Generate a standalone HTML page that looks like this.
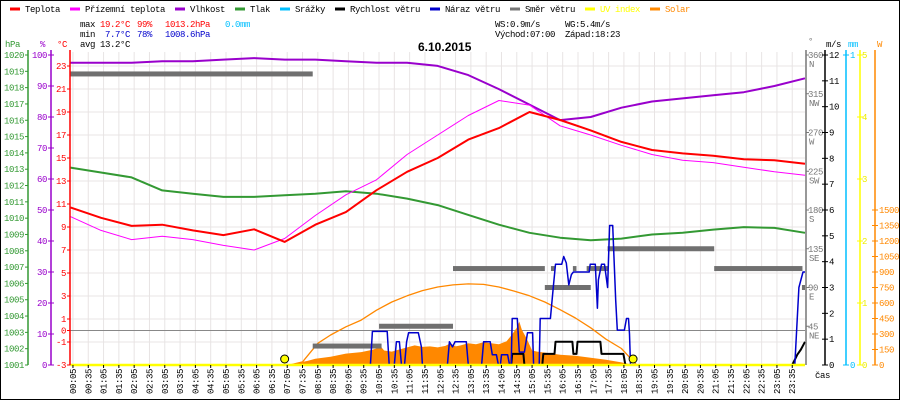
<!DOCTYPE html>
<html><head><meta charset="utf-8"><style>
html,body{margin:0;padding:0;background:#fff}
svg{display:block}
text{font-family:"Liberation Mono",monospace;font-size:9px;letter-spacing:-0.4px}
</style></head><body>
<svg id="c" width="900" height="400" viewBox="0 0 900 400" xmlns="http://www.w3.org/2000/svg">
<rect x="0.5" y="0.5" width="899" height="399" fill="#fff" stroke="#000"/>
<g id="legend"></g>
<g>
<text x="80" y="27">max</text><text x="100" y="27" fill="#f00">19.2°C</text><text x="137" y="27" fill="#f00">99%</text><text x="165" y="27" fill="#f00">1013.2hPa</text><text x="225" y="27" fill="#00bfff">0.0mm</text>
<text x="80" y="37">min</text><text x="105" y="37" fill="#00c">7.7°C</text><text x="137" y="37" fill="#00c">78%</text><text x="165" y="37" fill="#00c">1008.6hPa</text>
<text x="80" y="47">avg</text><text x="100" y="47">13.2°C</text>
<text x="495" y="27">WS:0.9m/s</text><text x="565" y="27">WG:5.4m/s</text>
<text x="495" y="37">Východ:07:00</text><text x="565" y="37">Západ:18:23</text>
</g>
<text x="418" y="51" style="font-family:'Liberation Sans',sans-serif;font-weight:bold;font-size:12px;letter-spacing:0">6.10.2015</text>
<g id="grid"></g><g id="plot"></g><g id="axes"></g>
</svg>
<script>
const tempH=[10.7,9.8,9.1,9.2,8.7,8.3,8.8,7.7,9.2,10.3,12.2,13.8,15.0,16.6,17.6,19.0,18.3,17.4,16.4,15.7,15.4,15.2,14.9,14.8,14.5];
const appH=[9.9,8.7,7.9,8.2,7.9,7.4,7.0,8.0,10.0,11.8,13.1,15.3,17.0,18.7,20.0,19.6,17.8,17.0,16.1,15.3,14.8,14.6,14.2,13.8,13.5];
const humH=[97.5,97.5,97.5,98,98,98.5,99,98.5,98.5,98,97.5,97.5,96.5,93.5,89,84,79,80,83,85,86,87,88,90,92.5];
const presH=[1013.1,1012.8,1012.5,1011.7,1011.5,1011.3,1011.3,1011.4,1011.5,1011.65,1011.5,1011.2,1010.8,1010.2,1009.6,1009.1,1008.8,1008.65,1008.75,1009.0,1009.1,1009.3,1009.45,1009.4,1009.1];
const solT=[420,435,450,465,480,510,540,570,590,600,605,615,630,645,660,675,690,705,720,735,745,755,765,780,795,810,825,840,855,865,875,880,885,895,905,915,930,945,960,990,1020,1050,1080,1095,1105];
const solV=[0,10,25,40,60,80,110,125,145,160,200,140,130,150,170,190,175,180,170,185,210,180,190,210,200,220,210,200,230,290,360,420,340,250,140,130,120,110,100,90,70,50,25,10,0];
const theoT=[430,455,485,510,540,570,600,630,660,690,720,750,780,810,840,870,900,930,960,990,1020,1050,1080,1095,1110];
const theoV=[0,30,210,290,370,435,530,610,670,720,755,775,785,780,755,715,670,610,535,455,360,250,160,80,0];
const wsT=[0,864,866,888,890,925,927,949,951,984,986,992,994,1039,1041,1084,1088,1415,1425,1432,1440];
const wsV=[0,0,0.43,0.43,0,0,0.43,0.43,0.9,0.9,0.43,0.43,0.9,0.9,0.43,0.43,0,0,0.4,0.6,0.9];
const wgT=[0,588,592,621,625,635,639,645,649,655,659,663,682,688,690,739,743,749,754,776,780,806,810,823,827,835,839,843,845,857,861,864,866,876,880,890,896,906,908,919,921,941,947,951,963,967,972,977,982,986,1017,1019,1029,1033,1035,1041,1047,1053,1057,1063,1069,1072,1086,1090,1094,1096,1098,1420,1428,1436,1440];
const wgV=[0,0,1.3,1.3,0,0,0.9,0.9,0,0,0.9,1.25,1.25,0.7,0,0,0.9,0.7,0.9,0.9,0,0,0.9,0.9,0.4,0.4,0,0,0.4,0.4,0,0,1.8,1.8,0.5,0.5,1.25,1.25,0,0,1.8,1.8,3.1,3.9,3.9,4.2,3.95,3.1,3.5,3.6,3.6,3.9,3.9,2.2,3.3,3.9,3.9,3.0,5.4,5.4,2.5,1.35,1.35,1.8,1.8,1.2,0,0,3.0,3.6,3.6];
const dirS=[0,475,605,750,942,930,985,1012,1053,1262,1434];
const dirE=[475,610,750,930,950,1020,992,1055,1262,1435,1440];
const dirV=[338,22,45,112,112,90,112,112,135,112,90];
const tempTicks=[23,21,19,17,15,13,11,9,7,5,3,1,0,-1,-3];
const legendNames=["Teplota","Přízemní teplota","Vlhkost","Tlak","Srážky","Rychlost větru","Náraz větru","Směr větru","UV index","Solar"];
const legendColors=["#f00","#f0f","#90c","#393","#00bfff","#000","#00c","#777","#ff0","#f80"];
const legendX=[10,70,175,235,280,335,430,510,585,650];
const dirLabels=["NE","E","SE","S","SW","W","NW","N"];

const NS="http://www.w3.org/2000/svg";
const X0=70.4,X1=805,Y0=55,Y1=365;
const xT=m=>X0+m*(X1-X0)/1440;
const yC=t=>330.5-t*11.5;
const yP=h=>Y1-h*(Y1-Y0)/100;
const yH=p=>Y0+(1020-p)*(Y1-Y0)/19;
const yW=v=>Y1-v*(Y1-Y0)/12;
const yS=w=>Y1-w*155/1500;
const yD=d=>Y1-d*(Y1-Y0)/360;
function mk(tag,at,parent){const e=document.createElementNS(NS,tag);for(const k in at)e.setAttribute(k,at[k]);parent.appendChild(e);return e;}
const grid=document.getElementById('grid'),plot=document.getElementById('plot'),axes=document.getElementById('axes'),leg=document.getElementById('legend');

legendNames.forEach((n,i)=>{
  const l=mk('line',{x1:legendX[i],x2:legendX[i]+10,y1:9,y2:9,stroke:legendColors[i],'stroke-width':3},leg);
  
  
  const t=mk('text',{x:legendX[i]+15,y:12,fill:(i==8||i==9)?legendColors[i]:'#000'},leg);
  t.textContent=n;
  
  
});

for(let i=0;i<48;i++){const x=xT(5+30*i);mk('line',{x1:x,x2:x,y1:Y0-3,y2:Y1,stroke:'#e8e4e4'},grid);}
tempTicks.forEach(t=>{if(t!==0)mk('line',{x1:X0,x2:X1,y1:yC(t),y2:yC(t),stroke:'#e8e4e4'},grid);});
mk('line',{x1:X0,x2:X1,y1:yC(0),y2:yC(0),stroke:'#888'},grid);

function path(ts,vs,fy,col,w,name){
  const d=ts.map((t,i)=>(i?'L':'M')+xT(t).toFixed(1)+','+fy(vs[i]).toFixed(1)).join('');
  const p=mk('path',{d:d,fill:'none',stroke:col,'stroke-width':w,'stroke-linejoin':'round'},plot);
  
  
  return p;
}
const hrs=tempH.map((_,i)=>i*60);
{
 let d='M'+xT(solT[0])+','+Y1;
 solT.forEach((t,i)=>{d+='L'+xT(t).toFixed(1)+','+yS(solV[i]).toFixed(1);});
 d+='L'+xT(solT[solT.length-1])+','+Y1+'Z';
 const a=mk('path',{d:d,fill:'#f80'},plot);
 
 
}
path(theoT,theoV,yS,'#f80',1.3,'solar-theoretical-line');
path(hrs,presH,yH,'#393',2,'pressure-line');
path(hrs,humH,yP,'#90c',2,'humidity-line');
path(hrs,appH,yC,'#f0f',1,'apparent-temperature-line');
path(hrs,tempH,yC,'#f00',2,'temperature-line');
dirV.forEach((v,i)=>{
  const r=mk('rect',{x:xT(dirS[i]),y:yD(v)-2.5,width:xT(dirE[i])-xT(dirS[i]),height:5,fill:'#707070'},plot);
  
  
});
path(wsT,wsV,yW,'#000',2,'wind-speed-line');
path(wgT,wgV,yW,'#00c',1.5,'wind-gust-line');
{const u=mk('line',{x1:X0,x2:X1,y1:Y1,y2:Y1,stroke:'#ff0','stroke-width':2.5},plot);
}
[420,1103].forEach(m=>{const c=mk('circle',{cx:xT(m),cy:359,r:4,fill:'#ff0',stroke:'#000','stroke-width':1},plot);
});

function axisLine(x,col,name){const l=mk('line',{x1:x,x2:x,y1:Y0-5,y2:Y1,stroke:col,'stroke-width':1.5},axes);
}
function txt(x,y,s,col,anchor,name){const t=mk('text',{x:x,y:y,fill:col,'text-anchor':anchor||'start'},axes);t.textContent=s;
return t;}
axisLine(28,'#393','pressure-axis');axisLine(51,'#90c','humidity-axis');axisLine(70,'#f00','temperature-axis');
axisLine(806,'#777','direction-axis');axisLine(825,'#000','wind-axis');axisLine(846,'#00bfff','rain-axis');axisLine(860,'#ff0','uv-axis');axisLine(875,'#f80','solar-axis');
txt(5,47,'hPa','#393','start','pressure-axis-title');txt(40,47,'%','#90c','start','humidity-axis-title');txt(57,47,'°C','#f00','start','temperature-axis-title');
txt(808,44,'°','#777','start','direction-axis-title');txt(826,47,'m/s','#000','start','wind-axis-title');txt(848,47,'mm','#00bfff','start','rain-axis-title');txt(877,47,'W','#f80','start','solar-axis-title');
for(let p=1001;p<=1020;p++){const y=yH(p);mk('line',{x1:25,x2:28,y1:y,y2:y,stroke:'#393'},axes);txt(24,y+3,String(p),'#393','end','pressure-tick');}
for(let h=0;h<=100;h+=10){const y=yP(h);mk('line',{x1:48,x2:54,y1:y,y2:y,stroke:'#90c'},axes);txt(47,y+3,String(h),'#90c','end','humidity-tick');}
tempTicks.forEach(t=>{const y=yC(t);mk('line',{x1:67,x2:70,y1:y,y2:y,stroke:'#f00'},axes);txt(66,y+3,String(t),'#f00','end','temperature-tick');});
for(let k=1;k<=8;k++){const y=yD(k*45);mk('line',{x1:806,x2:809,y1:y,y2:y,stroke:'#777'},axes);txt(808,y+3,String(k*45),'#777','start','direction-tick');txt(809,y+12,dirLabels[k-1],'#777','start','direction-label');}
for(let v=0;v<=12;v++){const y=yW(v);mk('line',{x1:822,x2:828,y1:y,y2:y,stroke:'#000'},axes);txt(829,y+3,String(v),'#000','start','wind-tick');}
[0,1].forEach(v=>{const y=v?Y0:Y1;mk('line',{x1:843,x2:849,y1:y,y2:y,stroke:'#00bfff'},axes);txt(850,y+3,String(v),'#00bfff','start','rain-tick');});
for(let v=0;v<=5;v++){const y=Y1-v*(Y1-Y0)/5;mk('line',{x1:857,x2:863,y1:y,y2:y,stroke:'#ff0'},axes);txt(862,y+3,String(v),'#ee0','start','uv-tick');}
for(let v=0;v<=1500;v+=150){const y=yS(v);mk('line',{x1:872,x2:878,y1:y,y2:y,stroke:'#f80'},axes);txt(879,y+3,String(v),'#f80','start','solar-tick');}
for(let i=0;i<48;i++){const m=5+30*i;const x=xT(m);
 mk('line',{x1:x,x2:x,y1:Y1,y2:Y1+3,stroke:'#000'},axes);
 const s=String(Math.floor(m/60)).padStart(2,'0')+':'+String(m%60).padStart(2,'0');
 const t=txt(0,0,s,'#000','end','x-tick-label');t.setAttribute('transform','translate('+(x+3)+',369) rotate(-90)');}
txt(815,378,'čas','#000','start','x-axis-title');
</script>
</body></html>
